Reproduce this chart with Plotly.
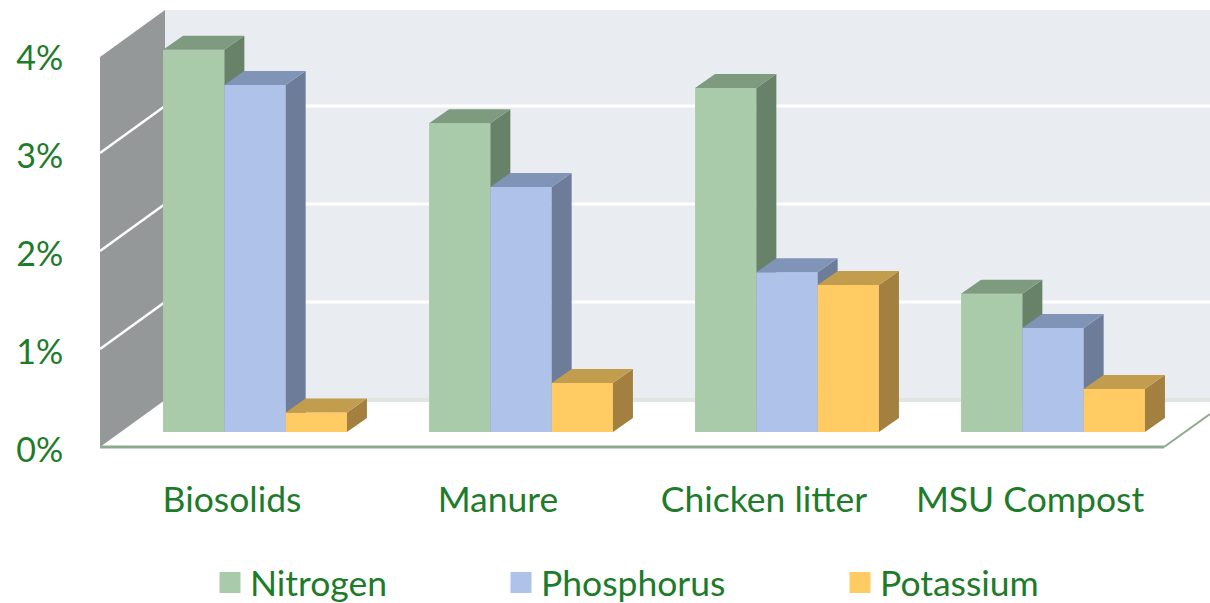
import plotly.graph_objects as go

categories = ["Biosolids", "Manure", "Chicken litter", "MSU Compost"]
nitrogen = [3.90, 3.15, 3.51, 1.41]
phosphorus = [3.54, 2.50, 1.63, 1.06]
potassium = [0.20, 0.50, 1.50, 0.44]
y_ticks = [0, 1, 2, 3, 4]
y_labels = ["0%", "1%", "2%", "3%", "4%"]

TEXT = "#1E7B2A"
FONT = "Lato"
W, H = 1210, 603
ML, MB = 100, 150
PX_X, PX_Y = 266.0, 98.0      # pixels per category / per percent
X0 = 232                      # pixel of first category tick
Y0 = 447                      # pixel of 0 %
xr = [(ML - X0) / PX_X, (W - X0) / PX_X]
yr = [(Y0 - (H - MB)) / PX_Y, Y0 / PX_Y]

BAR_W = 61.3 / PX_X
GROUP_SHIFT = 23 / PX_X
BASE = 15 / PX_Y
DX, DY = 20 / PX_X, 14 / PX_Y           # bar depth
WDX, WDY = 65 / PX_X, 47 / PX_Y         # wall depth
WALL_TOP = 3.98
LABEL_NUDGE = 3 / PX_Y                  # tick labels sit slightly below the wall lines
wall_x = xr[0]
floor_right = wall_x + 1064 / PX_X

series = [
    ("Nitrogen", nitrogen, -1, "#A9CBAA", "#7E9B7F", "#68826A", ""),
    ("Phosphorus", phosphorus, 0, "#AEC2EA", "#8094B7", "#6D7C98", "2"),
    ("Potassium", potassium, 1, "#FFCB62", "#C29D4D", "#A38040", "3"),
]

fig = go.Figure()
for name, vals, pos, front, top, side, ax in series:
    xs = [i + GROUP_SHIFT + pos * BAR_W for i in range(len(vals))]
    xaxis, yaxis = "x" + ax, "y" + ax
    fig.add_trace(go.Bar(x=xs, y=vals, base=BASE, width=BAR_W, marker=dict(color=front, line=dict(width=0)),
                         name=name, showlegend=False, xaxis=xaxis, yaxis=yaxis))
    tx, ty, sx, sy = [], [], [], []
    for x, v in zip(xs, vals):
        l, r, t, b = x - BAR_W / 2, x + BAR_W / 2, v + BASE, BASE
        tx += [l, l + DX, r + DX, r, l, None]
        ty += [t, t + DY, t + DY, t, t, None]
        sx += [r, r + DX, r + DX, r, r, None]
        sy += [b, b + DY, t + DY, t, b, None]
    for px, py, c in ((sx, sy, side), (tx, ty, top)):
        fig.add_trace(go.Scatter(x=px, y=py, mode="lines", line=dict(width=0, color=c), fill="toself",
                                 fillcolor=c, hoverinfo="skip", showlegend=False, xaxis=xaxis, yaxis=yaxis))

legend_x = {"": 218, "2": 509, "3": 848}
for name, vals, pos, front, top, side, ax in series:
    fig.add_trace(go.Scatter(x=[None], y=[None], mode="markers", name=name,
                             marker=dict(symbol="square", size=16, color=front, line=dict(width=5, color=front)),
                             legend="legend" + ax, showlegend=True))


def poly(pts):
    return "M" + " L".join(f"{x},{y}" for x, y in pts) + " Z"


shapes = [
    dict(type="path", path=poly([(wall_x, 0), (wall_x + WDX, WDY), (wall_x + WDX, WALL_TOP + WDY), (wall_x, WALL_TOP)]),
         fillcolor="#959899", line=dict(width=0)),
    dict(type="path", path=poly([(wall_x + WDX, WDY), (xr[1], WDY), (xr[1], WALL_TOP + WDY), (wall_x + WDX, WALL_TOP + WDY)]),
         fillcolor="#E9EDF1", line=dict(width=0)),
    dict(type="line", x0=wall_x + WDX, x1=xr[1], y0=WDY, y1=WDY, line=dict(color="#DFE6E0", width=4)),
    dict(type="line", x0=wall_x, x1=floor_right, y0=0, y1=0, line=dict(color="#8FA98F", width=3)),
    dict(type="line", x0=floor_right, x1=xr[1], y0=0, y1=WDY * 0.7, line=dict(color="#8FA98F", width=2)),
]
for v in y_ticks[1:-1]:
    shapes.append(dict(type="line", x0=wall_x + WDX, x1=xr[1], y0=v + WDY, y1=v + WDY, line=dict(color="white", width=3)))
    shapes.append(dict(type="line", x0=wall_x, x1=wall_x + WDX, y0=v, y1=v + WDY, line=dict(color="white", width=2.5)))
for s in shapes:
    s.update(xref="x", yref="y", layer="below")


def legend_cfg(px):
    return dict(x=(px - ML - 8) / (W - ML), y=(H - MB - 583) / (H - MB), xanchor="left", yanchor="middle",
                orientation="h", bgcolor="rgba(0,0,0,0)", font=dict(family=FONT, size=35.5, color=TEXT),
                itemsizing="trace", itemwidth=30, borderwidth=0)


fig.update_layout(
    width=W, height=H, margin=dict(l=ML, r=0, t=0, b=MB, autoexpand=False), paper_bgcolor="white", plot_bgcolor="white",
    barmode="overlay", shapes=shapes, font=dict(family=FONT, color=TEXT),
    xaxis=dict(range=xr, tickmode="array", tickvals=list(range(len(categories))), ticktext=categories,
               showgrid=False, zeroline=False, showline=False, ticks="outside", ticklen=15,
               tickcolor="rgba(0,0,0,0)", tickfont=dict(family=FONT, size=35.5, color=TEXT)),
    yaxis=dict(range=yr, tickmode="array", tickvals=[v - LABEL_NUDGE for v in y_ticks], ticktext=y_labels,
               showgrid=False, zeroline=False, showline=False, ticks="outside", ticklen=29,
               tickcolor="rgba(0,0,0,0)", tickfont=dict(family=FONT, size=34, color=TEXT)),
    xaxis2=dict(overlaying="x", matches="x", visible=False),
    yaxis2=dict(overlaying="y", matches="y", visible=False),
    xaxis3=dict(overlaying="x", matches="x", visible=False),
    yaxis3=dict(overlaying="y", matches="y", visible=False),
    legend=legend_cfg(legend_x[""]),
    legend2=legend_cfg(legend_x["2"]),
    legend3=legend_cfg(legend_x["3"]),
)

fig.write_html("out.html", config=dict(displayModeBar=False),
               post_script="document.body.style.margin='0';")
